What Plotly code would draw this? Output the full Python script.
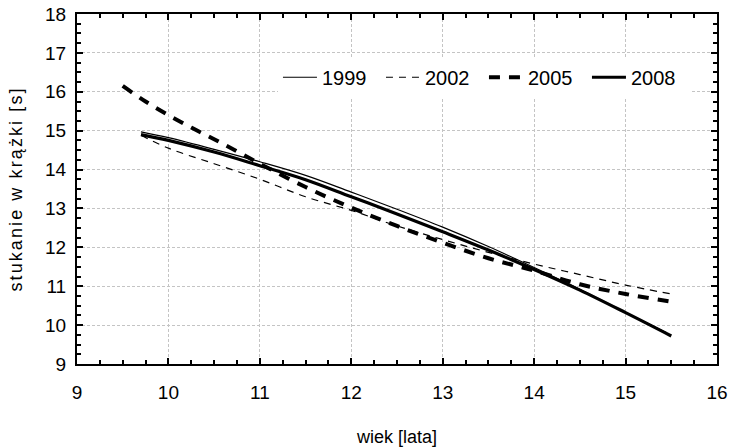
import plotly.graph_objects as go

# Data
age_1999 = [9.7, 10.0, 10.5, 11.0, 11.5, 12.0, 12.5, 13.0, 13.5, 14.0, 14.5, 15.0, 15.45]
time_1999 = [14.97, 14.82, 14.52, 14.2, 13.85, 13.42, 12.98, 12.52, 12.02, 11.48, 10.92, 10.33, 9.8]

age_2002 = [9.7, 10.0, 10.5, 11.0, 11.5, 12.0, 12.5, 13.0, 13.5, 14.0, 14.5, 15.0, 15.5]
time_2002 = [14.88, 14.55, 14.15, 13.75, 13.3, 12.95, 12.55, 12.2, 11.87, 11.57, 11.3, 11.03, 10.8]

age_2005 = [9.5, 9.75, 10.0, 10.25, 10.5, 10.75, 11.0, 11.5, 12.0, 12.5, 13.0, 13.5, 14.0, 14.5, 15.0, 15.5]
time_2005 = [16.15, 15.75, 15.4, 15.08, 14.78, 14.47, 14.15, 13.55, 13.02, 12.55, 12.12, 11.72, 11.4, 11.05, 10.8, 10.6]

age_2008 = [9.7, 10.0, 10.5, 11.0, 11.5, 12.0, 12.5, 13.0, 13.5, 14.0, 14.5, 15.0, 15.5]
time_2008 = [14.9, 14.75, 14.45, 14.1, 13.74, 13.3, 12.86, 12.4, 11.93, 11.43, 10.9, 10.32, 9.72]

series = [
    ("1999", age_1999, time_1999, 1.2, "solid"),
    ("2002", age_2002, time_2002, 1.2, "7px,6px"),
    ("2005", age_2005, time_2005, 4, "11px,9px"),
    ("2008", age_2008, time_2008, 3.2, "solid"),
]

fig = go.Figure()
for name, xs, ys, w, dash in series:
    fig.add_trace(go.Scatter(
        x=xs, y=ys, name=name, mode="lines",
        line=dict(color="black", width=w, dash=dash, shape="spline", smoothing=1.0),
    ))

axis_common = dict(
    showline=True, linecolor="black", linewidth=2, mirror="allticks",
    ticks="inside", ticklen=6, tickwidth=2, tickcolor="black",
    showgrid=True, gridcolor="#c4c4c4", griddash="3px,2px", gridwidth=1,
    zeroline=False, automargin=False,
    minor=dict(ticks="inside", ticklen=4, tickwidth=1.5, tickcolor="black", dtick=0.25, showgrid=False),
    tickfont=dict(family="Liberation Sans, Arial", size=19, color="black"),
)

fig.update_layout(
    width=730, height=447,
    margin=dict(l=77, r=13, t=14, b=83),
    paper_bgcolor="white", plot_bgcolor="white",
    font=dict(family="Liberation Sans, Arial", color="black"),
    xaxis=dict(range=[9, 16], dtick=1, tick0=9, ticklabelstandoff=10,
               title=dict(text="wiek [lata]", font=dict(size=18), standoff=44),
               **axis_common),
    yaxis=dict(range=[9, 18], dtick=1, tick0=9, ticklabelstandoff=5,
               title=dict(text='<span style="letter-spacing:2.1px">stukanie w krążki [s]</span>',
                          font=dict(size=18), standoff=18),
               **axis_common),
    legend=dict(
        orientation="h", x=0.314, y=0.875, xanchor="left", yanchor="top",
        bgcolor="white", borderwidth=0,
        font=dict(size=20, color="black"),
        entrywidth=54, entrywidthmode="pixels",
        itemwidth=34,
    ),
    showlegend=True,
)

fig.write_html("out.html")
